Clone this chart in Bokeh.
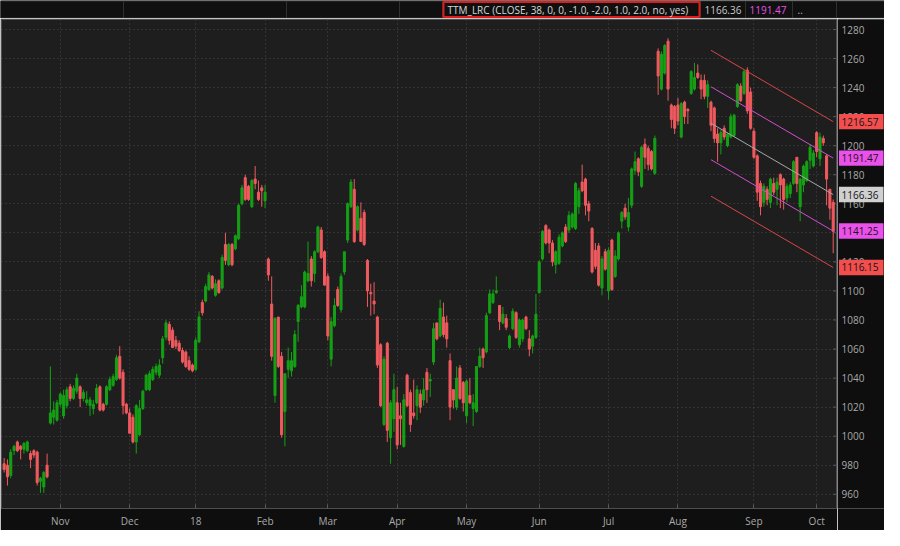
from bokeh.plotting import figure
from bokeh.models import ColumnDataSource, FixedTicker, Range1d
from bokeh.layouts import column, row
from bokeh.core.properties import value
from bokeh.embed import file_html
from bokeh.resources import INLINE

# ---------------- data (daily OHLC, Oct 2017 - Oct 2018) ----------------
opens = [981,980,973,990,996,993,991,990,988,990,
         989,969,965,980,1009,1013,1011,1022,1014,1021,
         1034,1026,1031,1034,1026,1023,1021,1019,1023,1034,
         1022,1022,1032,1035,1039,1055,1044,1022,1016,1013,
         996,1001,1019,1032,1032,1039,1044,1042,1054,1068,
         1077,1073,1066,1064,1059,1058,1052,1049,1046,1065,
         1092,1093,1101,1110,1097,1107,1102,1132,1118,1132,
         1129,1136,1160,1178,1172,1158,1177,1168,1171,1162,
         1122,1091,1028,1082,1055,1017,1046,1045,1048,1079,
         1089,1089,1107,1122,1112,1127,1142,1127,1110,1053,
         1076,1101,1087,1113,1135,1158,1170,1142,1150,1154,
         1121,1099,1093,1082,1063,1008,1064,999,1012,1023,
         1014,993,1042,1030,1016,1021,1029,1025,1044,1038,
         1051,1078,1069,1082,1078,1052,1032,1020,1047,1037,
         1014,1028,1019,1017,1048,1060,1058,1085,1092,1099,
         1090,1078,1081,1061,1074,1085,1063,1067,1082,1067,
         1062,1068,1099,1122,1145,1142,1133,1118,1119,1131,
         1144,1142,1144,1143,1158,1175,1177,1160,1143,1128,
         1131,1102,1127,1100,1135,1110,1122,1148,1157,1144,
         1159,1183,1191,1172,1201,1198,1196,1181,1265,1239,
         1250,1272,1228,1227,1228,1206,1230,1225,1236,1239,
         1250,1245,1245,1234,1230,1226,1208,1202,1212,1200,
         1206,1207,1227,1241,1236,1252,1237,1210,1193,1174,
         1161,1170,1161,1174,1170,1180,1177,1164,1167,1174,
         1192,1158,1173,1176,1190,1186,1209,1191,1205,1193,
         1170,1161]
highs = [985,984,991,994,997,994,996,997,990,991,
         990,972,976,988,1048,1024,1025,1030,1032,1034,
         1036,1035,1043,1035,1032,1031,1027,1025,1036,1035,
         1023,1035,1041,1043,1056,1062,1046,1023,1019,1015,
         1022,1025,1032,1043,1045,1048,1050,1053,1069,1080,
         1079,1075,1069,1066,1061,1059,1055,1050,1068,1086,
         1094,1105,1113,1111,1108,1108,1125,1140,1133,1133,
         1139,1160,1173,1180,1173,1177,1186,1176,1173,1173,
         1123,1110,1082,1082,1058,1043,1061,1058,1073,1091,
         1104,1114,1134,1124,1128,1145,1144,1128,1112,1082,
         1095,1103,1112,1127,1161,1177,1177,1159,1161,1156,
         1122,1105,1106,1083,1064,1055,1065,1025,1043,1034,
         1023,1029,1043,1032,1039,1035,1032,1040,1047,1043,
         1078,1078,1094,1092,1083,1057,1032,1048,1049,1038,
         1039,1040,1029,1048,1061,1061,1085,1101,1101,1110,
         1090,1089,1084,1070,1088,1086,1081,1081,1083,1073,
         1070,1098,1121,1142,1146,1143,1135,1128,1139,1141,
         1146,1155,1154,1175,1171,1187,1178,1162,1144,1133,
         1133,1124,1129,1130,1136,1128,1141,1155,1160,1164,
         1185,1196,1192,1200,1205,1200,1197,1207,1267,1265,
         1270,1274,1229,1228,1233,1230,1231,1226,1252,1257,
         1256,1249,1249,1245,1231,1227,1212,1211,1214,1209,
         1222,1222,1243,1243,1252,1254,1240,1212,1194,1176,
         1174,1172,1178,1178,1178,1181,1178,1174,1175,1190,
         1192,1178,1187,1190,1201,1197,1210,1209,1207,1194,
         1170,1163]
lows = [975,966,971,987,989,984,988,989,978,985,
        966,961,961,971,1008,1008,1010,1020,1012,1019,
        1024,1025,1029,1020,1024,1021,1014,1015,1022,1017,
        1017,1021,1031,1034,1038,1039,1015,1015,1002,995,
        988,1000,1018,1031,1031,1038,1042,1040,1050,1066,
        1063,1061,1060,1058,1050,1047,1045,1044,1045,1064,
        1083,1092,1100,1101,1096,1098,1101,1118,1117,1117,
        1128,1135,1159,1162,1162,1157,1170,1162,1158,1157,
        1107,1052,1023,1047,999,993,1040,1041,1047,1065,
        1088,1088,1106,1103,1106,1126,1122,1104,1066,1048,
        1075,1089,1085,1111,1133,1157,1133,1141,1134,1131,
        1089,1083,1084,1047,1020,1007,996,981,1003,991,
        994,992,1020,1003,1012,1011,1016,1021,1023,1027,
        1049,1066,1068,1068,1061,1011,1019,1018,1025,1017,
        1009,1022,1007,1016,1047,1047,1057,1084,1091,1098,
        1073,1077,1073,1060,1073,1067,1061,1065,1073,1055,
        1057,1067,1098,1121,1132,1126,1117,1112,1118,1130,
        1133,1140,1143,1142,1153,1168,1152,1148,1112,1115,
        1103,1097,1114,1094,1100,1109,1121,1143,1149,1141,
        1157,1180,1179,1171,1184,1183,1183,1180,1235,1238,
        1249,1231,1212,1208,1214,1205,1215,1215,1235,1238,
        1246,1232,1232,1226,1210,1202,1189,1194,1204,1199,
        1205,1206,1226,1230,1235,1222,1211,1191,1162,1152,
        1158,1159,1157,1166,1159,1157,1156,1161,1164,1173,
        1168,1148,1168,1175,1184,1185,1192,1186,1200,1159,
        1149,1126]
closes = [977,972,989,993,990,991,995,996,984,987,
          968,971,975,972,1016,1018,1023,1029,1028,1032,
          1026,1033,1040,1026,1030,1025,1025,1022,1033,1018,
          1018,1034,1039,1041,1054,1040,1021,1016,1002,996,
          1021,1019,1031,1042,1043,1046,1048,1049,1067,1078,
          1066,1061,1062,1059,1051,1048,1046,1045,1066,1082,
          1085,1103,1111,1102,1105,1099,1123,1121,1132,1118,
          1138,1159,1171,1163,1163,1176,1174,1163,1169,1168,
          1111,1055,1081,1048,1001,1043,1052,1052,1070,1090,
          1096,1113,1112,1107,1127,1144,1123,1104,1069,1079,
          1090,1090,1110,1127,1160,1175,1134,1158,1134,1132,
          1100,1098,1091,1049,1021,1053,1004,1023,1032,994,
          1012,1025,1021,1008,1014,1032,1020,1032,1032,1039,
          1074,1067,1088,1070,1067,1020,1025,1040,1026,1023,
          1038,1023,1023,1048,1055,1054,1083,1098,1098,1100,
          1079,1084,1075,1069,1086,1068,1080,1080,1074,1060,
          1069,1084,1120,1141,1133,1133,1120,1127,1137,1140,
          1134,1152,1153,1174,1169,1169,1159,1155,1113,1117,
          1104,1122,1115,1128,1101,1124,1140,1154,1151,1154,
          1184,1189,1182,1199,1192,1187,1184,1205,1248,1263,
          1269,1239,1218,1212,1217,1229,1220,1224,1251,1247,
          1247,1239,1234,1242,1214,1205,1202,1209,1206,1208,
          1220,1221,1242,1231,1251,1224,1212,1192,1168,1158,
          1172,1163,1177,1168,1175,1173,1163,1172,1173,1189,
          1174,1177,1186,1189,1199,1195,1196,1206,1202,1177,
          1157,1141]

month_ticks = [17, 38, 58, 79, 98, 119, 140, 162, 183, 204, 227, 246]
month_labels = ["Nov", "Dec", "18", "Feb", "Mar", "Apr", "May", "Jun", "Jul", "Aug", "Sep", "Oct"]
price_ticks = [960, 980, 1000, 1020, 1040, 1060, 1080, 1100, 1120, 1140, 1160,
               1180, 1200, 1220, 1240, 1260, 1280]
price_tick_labels = [str(t) for t in price_ticks]

# TTM_LRC linear regression channel over the last 38 closes (+2, +1, 0, -1, -2 dev)
lrc_length = 38
lrc_start_levels = [1265.68, 1240.58, 1215.47, 1190.36, 1165.26]
lrc_end_levels = [1216.57, 1191.47, 1166.36, 1141.25, 1116.15]
lrc_end_texts = ["1216.57", "1191.47", "1166.36", "1141.25", "1116.15"]

header_study = "TTM_LRC (CLOSE, 38, 0, 0, -1.0, -2.0, 1.0, 2.0, no, yes)"
header_values = ["1166.36", "1191.47", ".."]

# ---------------- styling ----------------
UP = "#15a015"
DOWN = "#f05a5e"
lrc_line_colors = ["#d84646", "#d24ed2", "#a8a8a8", "#d24ed2", "#d84646"]
tag_colors = ["#f24e4e", "#ea50ea", "#d0d0d0", "#ea50ea", "#f24e4e"]
FONT = "Open Sans"
FS = "10px"
W = 884
AXW = 47          # width of the right price-scale strip
H_MAIN = 512
TOP, BOTTOM = 1, 22
FRAME_BG = "#1e1e1e"
OUTER_BG = "#0e0e0e"

n = len(closes)
xs = list(range(n))
colors = [UP if c >= o else DOWN for o, c in zip(opens, closes)]
src = ColumnDataSource(dict(
    x=xs, high=highs, low=lows,
    top=[max(o, c) for o, c in zip(opens, closes)],
    bottom=[min(o, c) for o, c in zip(opens, closes)],
    color=colors,
))

# ---------------- header strip ----------------
h = figure(width=W, height=18, x_range=Range1d(0, W), y_range=Range1d(0, 18),
           toolbar_location=None, output_backend="svg", min_border=0,
           background_fill_color="#0f0f0f", border_fill_color="#0f0f0f")
h.axis.visible = False
h.grid.visible = False
h.outline_line_color = None
cell_edges = [0, 123, 286, 399, 442, 700, 745, 792, 836, W]
h.quad(left=cell_edges[:-1], right=cell_edges[1:], top=17.5, bottom=0.5,
       fill_color="#101010", line_color="#303030", line_width=1)
h.quad(left=[443], right=[699], top=[16.5], bottom=[1.5], fill_color=None,
       line_color="#e01c1c", line_width=2)
h.text(x=[447], y=[9], text=[header_study], text_baseline="middle",
       text_font=value(FONT), text_font_size=FS, text_color="#d8d8d8")
h.text(x=[704, 749, 797], y=[9, 9, 9], text=header_values, text_baseline="middle",
       text_font=value(FONT), text_font_size=FS,
       text_color=["#c8c8c8", "#e254e2", "#b0b0b0"])

# ---------------- main chart ----------------
yr = Range1d(950.2, 1286.9)
p = figure(width=W - AXW, height=H_MAIN, x_range=Range1d(-0.8, 252.0), y_range=yr,
           toolbar_location=None, output_backend="svg",
           background_fill_color=FRAME_BG, border_fill_color=OUTER_BG,
           min_border_left=1, min_border_right=1, min_border_top=TOP, min_border_bottom=BOTTOM)
p.outline_line_color = "#4f4f4f"
p.yaxis.visible = False

for g, ticks in ((p.xgrid, month_ticks), (p.ygrid, price_ticks)):
    g.ticker = FixedTicker(ticks=ticks)
    g.grid_line_color = "#484848"
    g.grid_line_dash = "1 3"
    g.grid_line_width = 1

ax = p.xaxis
ax.ticker = FixedTicker(ticks=month_ticks)
ax.major_label_overrides = {t: lab for t, lab in zip(month_ticks, month_labels)}
ax.major_label_text_align = "left"
ax.axis_line_color = None
ax.major_tick_in = 4
ax.major_tick_out = 0
ax.major_tick_line_color = "#5a5a5a"
ax.minor_tick_line_color = None
ax.major_label_text_color = "#a9a9a9"
ax.major_label_text_font = FONT
ax.major_label_text_font_size = FS
ax.major_label_standoff = 5

# small inner tick marks at the right edge for the price levels
p.segment(x0=251.0, x1=252.0, y0=price_ticks, y1=price_ticks, line_color="#5a5a5a", line_width=1)

p.segment(x0="x", y0="low", x1="x", y1="high", line_color="color", line_width=1, source=src)
p.vbar(x="x", width=0.62, top="top", bottom="bottom", fill_color="color",
       line_color="color", line_width=1, source=src)

x_first = n - lrc_length
for s, e, c in zip(lrc_start_levels, lrc_end_levels, lrc_line_colors):
    p.line(x=[x_first, n - 1], y=[s, e], line_color=c, line_width=1)

# ---------------- right price scale ----------------
r = figure(width=AXW, height=H_MAIN, x_range=Range1d(0, AXW), y_range=yr,
           toolbar_location=None, output_backend="svg",
           background_fill_color=OUTER_BG, border_fill_color=OUTER_BG,
           min_border_left=0, min_border_right=0, min_border_top=TOP, min_border_bottom=BOTTOM)
r.axis.visible = False
r.grid.visible = False
r.outline_line_color = None
r.text(x=4, y=price_ticks, text=price_tick_labels, text_baseline="middle", text_align="left",
       text_font=value(FONT), text_font_size=FS, text_color="#a9a9a9")
half = 5.3
r.quad(left=1.5, right=46, top=[e + half for e in lrc_end_levels],
       bottom=[e - half for e in lrc_end_levels], fill_color=tag_colors, line_color=None)
r.text(x=4, y=lrc_end_levels, text=lrc_end_texts, text_baseline="middle", text_align="left",
       text_font=value(FONT), text_font_size=FS, text_color="#141414")

layout = column(h, row(p, r, spacing=0), spacing=0)
open("out.html", "w").write(file_html(layout, INLINE))
